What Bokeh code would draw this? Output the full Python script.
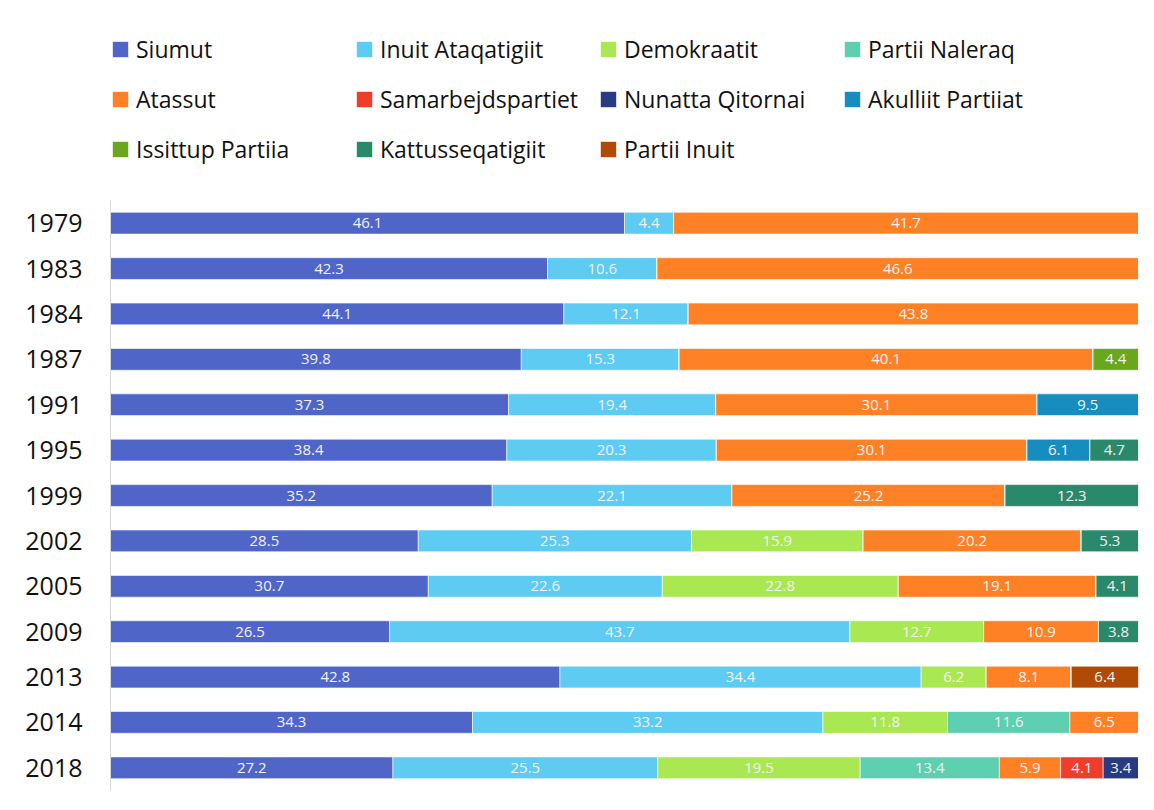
from bokeh.plotting import figure
from bokeh.models import ColumnDataSource, Legend, LegendItem, LabelSet, Range1d, FixedTicker
from bokeh.core.properties import value
from bokeh.embed import file_html
from bokeh.resources import INLINE

years = ["1979", "1983", "1984", "1987", "1991", "1995", "1999",
         "2002", "2005", "2009", "2013", "2014", "2018"]

parties = ["Siumut", "Inuit Ataqatigiit", "Demokraatit", "Partii Naleraq",
           "Atassut", "Samarbejdspartiet", "Nunatta Qitornai", "Akulliit Partiiat",
           "Issittup Partiia", "Kattusseqatigiit", "Partii Inuit"]

colors = ["#4F66C8", "#5DCBF2", "#A9E850", "#5ECFB1",
          "#FF8125", "#EE3E2B", "#283A82", "#168DBE",
          "#69A71C", "#2A886B", "#B04A05"]

siumut = [46.1, 42.3, 44.1, 39.8, 37.3, 38.4, 35.2, 28.5, 30.7, 26.5, 42.8, 34.3, 27.2]
inuit_ataqatigiit = [4.4, 10.6, 12.1, 15.3, 19.4, 20.3, 22.1, 25.3, 22.6, 43.7, 34.4, 33.2, 25.5]
demokraatit = [0, 0, 0, 0, 0, 0, 0, 15.9, 22.8, 12.7, 6.2, 11.8, 19.5]
partii_naleraq = [0, 0, 0, 0, 0, 0, 0, 0, 0, 0, 0, 11.6, 13.4]
atassut = [41.7, 46.6, 43.8, 40.1, 30.1, 30.1, 25.2, 20.2, 19.1, 10.9, 8.1, 6.5, 5.9]
samarbejdspartiet = [0, 0, 0, 0, 0, 0, 0, 0, 0, 0, 0, 0, 4.1]
nunatta_qitornai = [0, 0, 0, 0, 0, 0, 0, 0, 0, 0, 0, 0, 3.4]
akulliit_partiiat = [0, 0, 0, 0, 9.5, 6.1, 0, 0, 0, 0, 0, 0, 0]
issittup_partiia = [0, 0, 0, 4.4, 0, 0, 0, 0, 0, 0, 0, 0, 0]
kattusseqatigiit = [0, 0, 0, 0, 0, 4.7, 12.3, 5.3, 4.1, 3.8, 0, 0, 0]
partii_inuit = [0, 0, 0, 0, 0, 0, 0, 0, 0, 0, 6.4, 0, 0]

series = [siumut, inuit_ataqatigiit, demokraatit, partii_naleraq, atassut,
          samarbejdspartiet, nunatta_qitornai, akulliit_partiiat,
          issittup_partiia, kattusseqatigiit, partii_inuit]

FONT = "Open Sans"

n = len(years)
ypos = list(range(n))  # 1979 at the top
totals = [sum(s[i] for s in series) for i in range(n)]
keys = [f"p{k}" for k in range(len(parties))]
data = {"y": ypos}
for k, s in zip(keys, series):
    data[k] = [v / t * 100 for v, t in zip(s, totals)]
src = ColumnDataSource(data)

lx, ly, lt = [], [], []
for i in range(n):
    cum = 0.0
    for s in series:
        w = s[i] / totals[i] * 100
        if s[i] > 0:
            lx.append(cum + w / 2)
            ly.append(ypos[i])
            lt.append(f"{s[i]:.1f}")
        cum += w
lsrc = ColumnDataSource(dict(x=lx, y=ly, text=lt))

# layout: frame spans the full height; bars take the lower 590 px, legend sits above
FRAME_H = 790
ROW_PX = 590 / n
p = figure(width=1146, height=802, output_backend="svg", toolbar_location=None,
           x_range=Range1d(0, 100),
           y_range=Range1d(start=n - 0.5, end=n - 0.5 - FRAME_H / ROW_PX),
           min_border_left=110, min_border_right=8, min_border_bottom=12,
           min_border_top=0)
p.outline_line_color = None
p.xgrid.visible = False
p.ygrid.visible = False
p.xaxis.visible = False

rs = p.hbar_stack(keys, y="y", height=0.48, source=src, color=colors,
                  line_color="white", line_alpha=0.6, line_width=1)

labels = LabelSet(x="x", y="y", text="text", source=lsrc,
                  text_align="center", text_baseline="middle",
                  text_font=value(FONT), text_font_size="15px", text_color="#f2f2f2")
p.add_layout(labels)

yax = p.yaxis[0]
yax.ticker = FixedTicker(ticks=ypos)
yax.major_label_overrides = {i: y for i, y in zip(ypos, years)}
yax.bounds = (-0.5, n - 0.5)
yax.axis_line_color = "#d9d9d9"
yax.axis_line_width = 1
yax.major_tick_line_color = None
yax.minor_tick_line_color = None
yax.major_label_text_font = FONT
yax.major_label_text_font_size = "25px"
yax.major_label_text_color = "#111111"
yax.major_label_standoff = 22

# legend fills column by column: reorder so it reads row by row (4 per row)
nrows = 3
order = [r * 4 + c for c in range(4) for r in range(nrows) if r * 4 + c < len(parties)]
items = [LegendItem(label=parties[k], renderers=[rs[k]]) for k in order]
legend = Legend(items=items, ncols=4, location=(0, 625),
                glyph_width=20, glyph_height=20, label_standoff=6,
                label_height=20, label_width=200, spacing=18, padding=0, margin=0,
                label_text_font=FONT, label_text_font_size="23px",
                label_text_color="#111111", border_line_color=None,
                background_fill_alpha=0)
p.add_layout(legend)

open("out.html", "w").write(file_html(p, INLINE))
